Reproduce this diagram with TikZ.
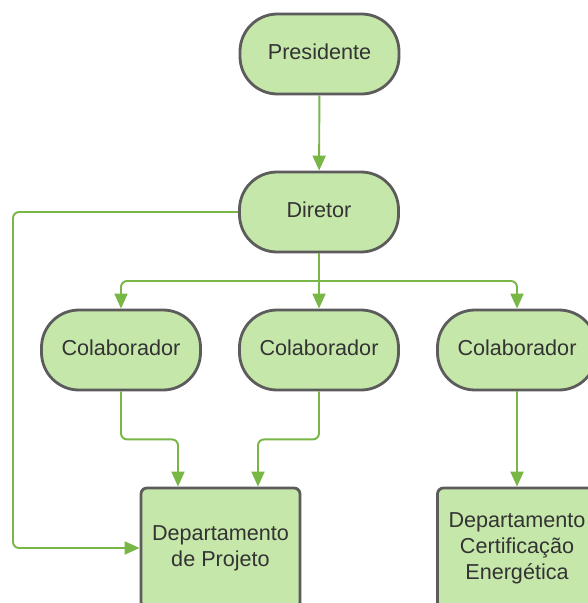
\documentclass[tikz,border=0pt]{standalone}
\usepackage{fontspec}
\setmainfont{Liberation Sans}
\usetikzlibrary{arrows.meta}
\definecolor{boxfill}{HTML}{C6E7AA}
\definecolor{boxline}{HTML}{5C5C5C}
\definecolor{linkgreen}{HTML}{78B646}
\definecolor{txt}{HTML}{333333}
\begin{document}
\begin{tikzpicture}[
    role/.style={draw=boxline, fill=boxfill, line width=1.6pt, rounded corners=0.75cm,
        minimum width=3.18cm, minimum height=1.6cm, text=txt,
        text height=0.32cm, text depth=0.1cm,
        font=\fontsize{12.3}{14.8}\selectfont},
    dept/.style={role, rounded corners=0.12cm, minimum height=2.4cm, align=center,
        text height=, text depth=},
    link/.style={draw=linkgreen, line width=1.1pt, rounded corners=0.12cm,
        -{Triangle[length=0.3cm,width=0.26cm]}}
    ]
    \useasboundingbox (0,0) rectangle (11.74,-12.06);
    \node [role] (pres) at (6.39,-1.08) {Presidente};
    \node [role] (dir) at (6.38,-4.24) {Diretor};
    \node [role] (col1) at (2.42,-7.0) {Colaborador};
    \node [role] (col2) at (6.38,-7.0) {Colaborador};
    \node [role] (col3) at (10.34,-7.0) {Colaborador};
    \node [dept] (proj) at (4.41,-10.96) {Departamento\\de Projeto};
    \node [dept] (cert) at (10.34,-10.96) {Departamento\\Certificação\\Energética};
    \coordinate (split) at (6.38,-5.62);
    \coordinate (rail) at (0.26,-8);
    \draw [link] (pres) -- (dir);
    \draw [link] (dir) -- (col2);
    \draw [link] (split) -| (col1);
    \draw [link] (split) -| (col3);
    \draw [link] (dir.west) -- (dir.west -| rail) |- (proj.west);
    \draw [link] (col1.south) -- ++(0,-0.96) -| ([xshift=-0.85cm]proj.north);
    \draw [link] (col2.south) -- ++(0,-0.96) -| ([xshift=0.75cm]proj.north);
    \draw [link] (col3) -- (cert);
\end{tikzpicture}
\end{document}
